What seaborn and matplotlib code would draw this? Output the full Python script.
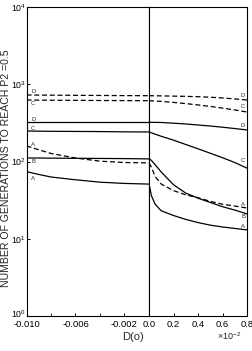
import matplotlib
matplotlib.use("Agg")
import matplotlib.pyplot as plt
import matplotlib.transforms as mtransforms
import seaborn as sns
import pandas as pd
from matplotlib.ticker import NullLocator, FixedLocator

# ---------------- data ----------------
xl = [-0.010, -0.009, -0.008, -0.006, -0.004, -0.002, 0.0]
A_dash_l = [159, 142, 127, 111, 101, 97, 96]
A_sol_l = [74, 68, 63, 58, 54, 52, 51]
B_sol_l = [111, 111, 110.5, 110, 109.5, 109, 108]
C_sol_l = [248, 247, 246, 245, 244, 242, 241]
D_sol_l = [322, 322, 322, 322, 322, 322, 322]
C_dash_l = [625, 623, 621, 619, 616, 614, 612]
D_dash_l = [726, 724, 722, 719, 716, 713, 711]

xr = [0.0, 0.01, 0.02, 0.05, 0.1, 0.2, 0.3, 0.4, 0.5, 0.6, 0.7, 0.8]
A_sol_r = [51, 43, 36, 28, 23, 20, 17.8, 16.2, 15, 14.2, 13.6, 13]
A_dash_r = [96, 90, 84, 64, 51, 42, 37, 34, 30.5, 28, 26.5, 25]
B_sol_r = [108, 106, 103, 91, 73, 50, 39, 33.5, 29.5, 26, 23.5, 21]
C_sol_r = [241, 238, 235, 226, 212, 189, 166, 146, 128, 112, 97, 82]
D_sol_r = [322, 322, 321, 321, 320, 313, 306, 297, 288, 278, 267, 256]
C_dash_r = [612, 611, 610, 607, 600, 582, 562, 540, 516, 491, 465, 437]
D_dash_r = [711, 711, 710, 709, 707, 702, 697, 690, 679, 665, 646, 625]

curve_names = ["A_dash", "A_sol", "B_sol", "C_sol", "D_sol", "C_dash", "D_dash"]
curve_letters = ["A", "A", "B", "C", "D", "C", "D"]
left_series = [A_dash_l, A_sol_l, B_sol_l, C_sol_l, D_sol_l, C_dash_l, D_dash_l]
right_series = [A_dash_r, A_sol_r, B_sol_r, C_sol_r, D_sol_r, C_dash_r, D_dash_r]

yticks = [1, 10, 100, 1000, 10000]
ytick_labels = ["$10^{0}$", "$10^{1}$", "$10^{2}$", "$10^{3}$", "$10^{4}$"]
xl_ticks = [-0.010, -0.006, -0.002]
xl_tick_labels = ["-0.010", "-0.006", "-0.002"]
xl_minor = [-0.008, -0.004]
xr_ticks = [0.0, 0.2, 0.4, 0.6, 0.8]
xr_tick_labels = ["0.0", "0.2", "0.4", "0.6", "0.8"]

# label offsets (pixels) relative to the curve at the label position
left_off = {"A_dash": 3, "A_sol": -5, "B_sol": -4, "C_sol": 3, "D_sol": 3, "C_dash": -3, "D_dash": 4}
right_off = {"A_dash": 3, "A_sol": 3, "B_sol": -4, "C_sol": 6, "D_sol": 4, "C_dash": 4.5, "D_dash": 4.5}

# ---------------- figure ----------------
sns.set_style("ticks")
plt.rcParams["font.family"] = ["Liberation Sans Narrow", "Liberation Sans", "DejaVu Sans"]
plt.rcParams["mathtext.fontset"] = "custom"
plt.rcParams["mathtext.rm"] = "Liberation Sans"
plt.rcParams["mathtext.it"] = "Liberation Sans"

W, H = 253, 351
fig = plt.figure(figsize=(W / 100, H / 100), dpi=100)
fig.patch.set_facecolor("white")

top, bot = 7, 316
x0, xm, x1 = 26.5, 149, 247
axL = fig.add_axes([x0 / W, 1 - bot / H, (xm - x0) / W, (bot - top) / H])
axR = fig.add_axes([xm / W, 1 - bot / H, (x1 - xm) / W, (bot - top) / H], sharey=axL)

def frame(rows_x, series):
    rows = []
    for name, vals in zip(curve_names, series):
        kind = "dashed" if "dash" in name else "solid"
        for xv, yv in zip(rows_x, vals):
            rows.append({"x": xv, "y": yv, "curve": name, "kind": kind})
    return pd.DataFrame(rows)

dfL = frame(xl, left_series)
dfR = frame(xr, right_series)

for ax, df in ((axL, dfL), (axR, dfR)):
    sns.lineplot(data=df, x="x", y="y", units="curve", estimator=None,
                 style="kind", dashes={"solid": "", "dashed": (4, 2.2)},
                 color="black", linewidth=0.9, legend=False, ax=ax, sort=False)

for ax in (axL, axR):
    ax.set_yscale("log")
    ax.set_ylim(1, 10000)
    for s in ax.spines.values():
        s.set_visible(True)
        s.set_linewidth(0.8)
        s.set_color("black")
    ax.set_xlabel("")
    ax.set_ylabel("")
    ax.tick_params(direction="in", length=2.5, width=0.7, labelsize=6.8, pad=3, colors="black")

axL.set_xlim(-0.010, 0.0)
axL.xaxis.set_major_locator(FixedLocator(xl_ticks))
axL.set_xticklabels(xl_tick_labels)
axL.xaxis.set_minor_locator(FixedLocator(xl_minor))
axL.tick_params(axis="x", which="minor", direction="in", length=2.5, width=0.7)
axL.yaxis.set_major_locator(FixedLocator(yticks))
axL.set_yticklabels(ytick_labels)
axL.yaxis.set_minor_locator(NullLocator())
axL.tick_params(axis="y", labelsize=6.3, pad=0.5)

# lift the lowest y label a little, as in the reference
lab0 = axL.get_yticklabels()[0]
lab0.set_transform(lab0.get_transform() + mtransforms.ScaledTranslation(0, 2.5 / 100, fig.dpi_scale_trans))

axR.set_xlim(0.0, 0.8)
axR.xaxis.set_major_locator(FixedLocator(xr_ticks))
axR.set_xticklabels(xr_tick_labels)
axR.tick_params(axis="y", which="both", left=False, labelleft=False)
axR.yaxis.set_minor_locator(NullLocator())

# curve letters
xlab_l = -0.00945
xlab_r = 0.767
for name, letter, lv, rv in zip(curve_names, curve_letters, left_series, right_series):
    yl = float(pd.Series(lv, index=xl).reindex(sorted(set(xl + [xlab_l]))).interpolate(method="index")[xlab_l])
    yr = float(pd.Series(rv, index=xr).reindex(sorted(set(xr + [xlab_r]))).interpolate(method="index")[xlab_r])
    axL.annotate(letter, (xlab_l, yl), xytext=(0, left_off[name]), textcoords="offset pixels",
                 ha="center", va="center", fontsize=4.2)
    axR.annotate(letter, (xlab_r, yr), xytext=(0, right_off[name]), textcoords="offset pixels",
                 ha="center", va="center", fontsize=4.2)

fig.text(6 / W, 1 - 168 / H, "NUMBER OF GENERATIONS TO REACH P2 =0.5", rotation=90,
         ha="center", va="center", fontsize=7.6)
fig.text(133 / W, 1 - 337 / H, "D(o)", ha="center", va="center", fontsize=8)
fig.text(229 / W, 1 - 336 / H, "×10$^{-2}$", ha="center", va="center", fontsize=6.5)

fig.savefig("out.png", dpi=100, facecolor="white")
